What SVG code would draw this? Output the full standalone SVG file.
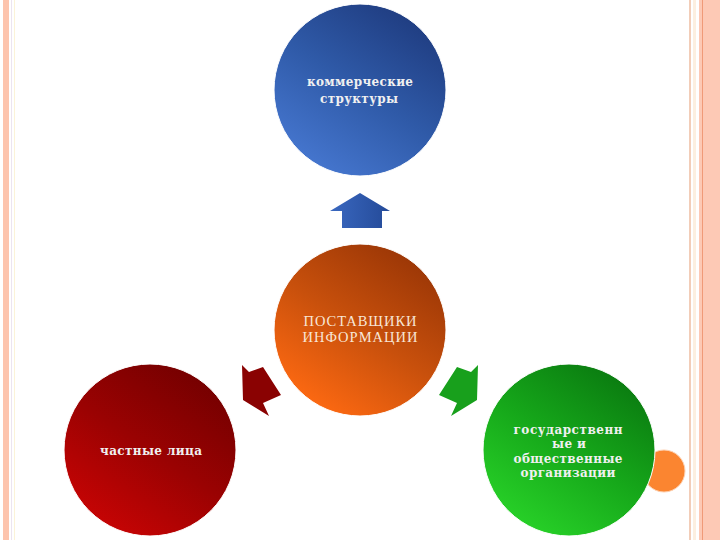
<svg xmlns="http://www.w3.org/2000/svg" width="720" height="540" viewBox="0 0 720 540">
<style>
.t{font-family:"DejaVu Serif","Liberation Serif",serif;font-size:12px;font-weight:bold;fill:#f0f0f0;text-anchor:middle}
.tc{font-family:"Liberation Serif","DejaVu Serif",serif;font-weight:normal;fill:#f8e6d6;font-size:14.5px}
</style>
<defs>
<linearGradient id="gBlue" x1="0.2" y1="0.95" x2="0.8" y2="0.05"><stop offset="0" stop-color="#4677d0"/><stop offset="0.5" stop-color="#2f5aa8"/><stop offset="1" stop-color="#1f3c80"/></linearGradient>
<linearGradient id="gOrange" x1="0.2" y1="0.95" x2="0.8" y2="0.05"><stop offset="0" stop-color="#ff6a12"/><stop offset="0.5" stop-color="#c8500c"/><stop offset="1" stop-color="#9a3606"/></linearGradient>
<linearGradient id="gRed" x1="0.2" y1="0.95" x2="0.8" y2="0.05"><stop offset="0" stop-color="#c80404"/><stop offset="0.5" stop-color="#9a0202"/><stop offset="1" stop-color="#740000"/></linearGradient>
<linearGradient id="gGreen" x1="0.2" y1="0.95" x2="0.8" y2="0.05"><stop offset="0" stop-color="#28d228"/><stop offset="0.5" stop-color="#16a81a"/><stop offset="1" stop-color="#0a7a10"/></linearGradient>
<linearGradient id="gArrB" x1="0" y1="0" x2="1" y2="0"><stop offset="0" stop-color="#3a68c0"/><stop offset="1" stop-color="#244a98"/></linearGradient>
</defs>
<g id="border">
<rect x="0" y="0" width="720" height="540" fill="#ffffff"/>
<rect x="3" y="0" width="6" height="540" fill="#fdc4ad"/>
<rect x="11" y="0" width="1" height="540" fill="#ece4f0"/>
<rect x="14" y="0" width="1" height="540" fill="#fbf3d8"/>
<rect x="689" y="0" width="2" height="540" fill="#f2cdb8"/>
<rect x="693" y="0" width="3" height="540" fill="#fcefe0"/>
<rect x="699" y="0" width="21" height="540" fill="#fdc9b5"/>
<rect x="702" y="0" width="1" height="540" fill="#f09a78"/>
</g>
<g id="decor">
<circle cx="664" cy="471" r="21" fill="#fb8530" stroke="#fdd0b0" stroke-width="1"/>
</g>
<g id="connectors">
<polygon points="360,193 390,211 382,211 382,228 342,228 342,211 330,211" fill="url(#gArrB)"/>
<polygon points="242,365 249,372 263,367 281,395 263,403 269,416 243,400" fill="#8a0202"/>
<polygon points="478,365 471,372 457,367 439,395 457,403 451,416 477,400" fill="#18a01c"/>
</g>
<g id="node-top">
<circle cx="360" cy="90" r="86" fill="url(#gBlue)" stroke="#ffffff" stroke-width="1"/>
<text class="t" x="360" y="86" textLength="106" lengthAdjust="spacing">коммерческие</text>
<text class="t" x="359" y="103" textLength="78" lengthAdjust="spacing">структуры</text>
</g>
<g id="node-center">
<circle cx="360" cy="330" r="86" fill="url(#gOrange)" stroke="#ffffff" stroke-width="1"/>
<text class="t tc" x="360" y="326" textLength="113" lengthAdjust="spacing">ПОСТАВЩИКИ</text>
<text class="t tc" x="360" y="342" textLength="115" lengthAdjust="spacing">ИНФОРМАЦИИ</text>
</g>
<g id="node-left">
<circle cx="150" cy="450" r="86" fill="url(#gRed)" stroke="#ffffff" stroke-width="1"/>
<text class="t" x="151" y="455" textLength="102" lengthAdjust="spacing">частные лица</text>
</g>
<g id="node-right">
<circle cx="569" cy="450" r="86" fill="url(#gGreen)" stroke="#ffffff" stroke-width="1"/>
<text class="t" x="568" y="434" textLength="109" lengthAdjust="spacing">государственн</text>
<text class="t" x="569" y="448" textLength="34" lengthAdjust="spacing">ые и</text>
<text class="t" x="568" y="463" textLength="109" lengthAdjust="spacing">общественные</text>
<text class="t" x="568" y="477" textLength="95" lengthAdjust="spacing">организации</text>
</g>
</svg>
